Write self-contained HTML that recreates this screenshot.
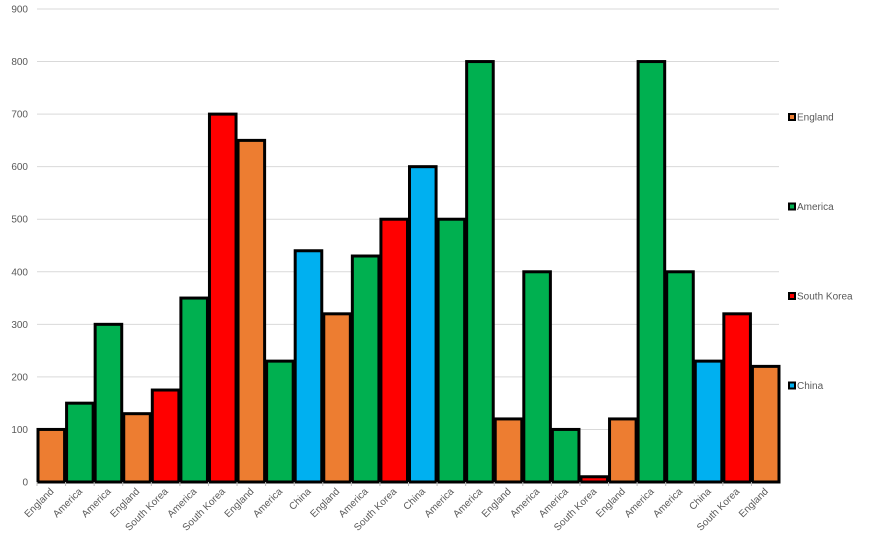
<!DOCTYPE html>
<html><head><meta charset="utf-8"><style>
body{margin:0;background:#fff;font-family:"Liberation Sans",sans-serif;}
svg text{font-family:"Liberation Sans",sans-serif;fill:#595959;}
</style></head><body>
<svg id="chart" width="871" height="539" xmlns="http://www.w3.org/2000/svg">
<g id="grid"></g><g id="bars"></g><g id="xlabels"></g><g id="legend"></g>
</svg>
<script>
const categories=["England","America","America","England","South Korea","America","South Korea","England","America","China","England","America","South Korea","China","America","America","England","America","America","South Korea","England","America","America","China","South Korea","England"];
const values=[100,150,300,130,175,350,700,650,230,440,320,430,500,600,500,800,120,400,100,10,120,800,400,230,320,220];
const yTicks=[0,100,200,300,400,500,600,700,800,900];
const legendNames=["England","America","South Korea","China"];
const colors={"England":"#ED7D31","America":"#00B050","South Korea":"#FF0000","China":"#00B0F0"};
const NS="http://www.w3.org/2000/svg";
const x0=37,x1=780,yTop=9,yBot=482,yMax=900;
const y=v=>yBot-(v/yMax)*(yBot-yTop);
const bw=(x1-x0)/categories.length;
const xs=i=>x0+i*bw;
function mk(t,a,p){const e=document.createElementNS(NS,t);for(const k in a)e.setAttribute(k,a[k]);p.appendChild(e);return e;}
const grid=document.getElementById('grid');
yTicks.forEach(t=>{
 const l=mk('line',{x1:x0,x2:779,y1:y(t),y2:y(t),stroke:t===0?'#888':'#d9d9d9','stroke-width':1},grid);
 
 
 const tx=mk('text',{x:28,y:y(t)+3.5,'font-size':10,'text-anchor':'end'},grid);
 tx.textContent=t;
 
 
});
const bars=document.getElementById('bars');
values.forEach((v,i)=>{
 const r=mk('rect',{x:xs(i)+1,y:y(v),width:bw-2,height:yBot-y(v),fill:colors[categories[i]],stroke:'#000','stroke-width':3},bars);
 
 
});
const xl=document.getElementById('xlabels');
categories.forEach((c,i)=>{
 const cx=xs(i)+bw/2+3;
 const t=mk('text',{x:cx,y:492,'font-size':10,'text-anchor':'end',transform:`rotate(-45 ${cx} 492)`},xl);
 t.textContent=c;
 
 
 const tk=mk('line',{x1:xs(i),x2:xs(i),y1:482,y2:486,stroke:'#bbb'},xl);
 
 
});
const lg=document.getElementById('legend');
legendNames.forEach((n,i)=>{
 const ly=117+i*89.5;
 const g=mk('g',{},lg);
 
 
 mk('rect',{x:789,y:ly-3,width:6,height:6,fill:colors[n],stroke:'#000','stroke-width':2},g);
 const t=mk('text',{x:797,y:ly+3.5,'font-size':10},g);
 t.textContent=n;
});
</script>
</body></html>
